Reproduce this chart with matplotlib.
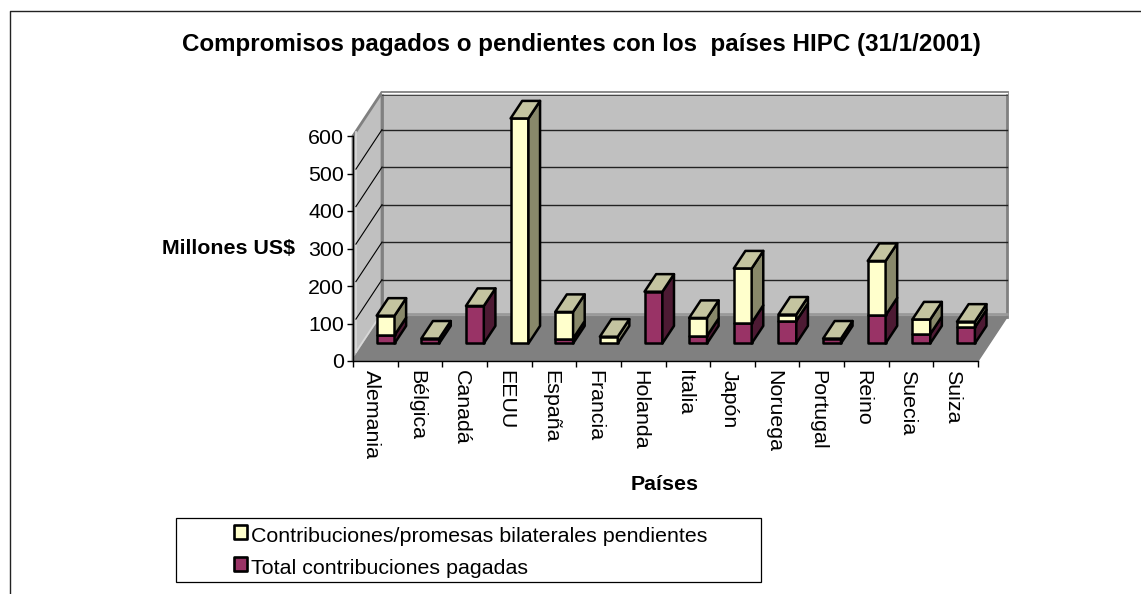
import matplotlib
matplotlib.use("Agg")
import matplotlib.pyplot as plt
from matplotlib.patches import Polygon, Rectangle
from matplotlib.transforms import ScaledTranslation

plt.rcParams['font.family'] = ['Liberation Sans', 'DejaVu Sans']

paises = ["Alemania", "Bélgica", "Canadá", "EEUU", "España", "Francia", "Holanda",
          "Italia", "Japón", "Noruega", "Portugal", "Reino", "Suecia", "Suiza"]
pagadas = [22, 13, 100, 0, 13, 0, 138, 20, 55, 60, 13, 75, 25, 43]
pendientes = [52, 0, 0, 600, 71, 18, 0, 48, 145, 17, 0, 145, 39, 15]
y_ticks = [0, 100, 200, 300, 400, 500, 600]

W, H = 1141, 594

YELLOW = ("#FFFFCC", "#C4C4A0", "#88886A")
MAGENTA = ("#993366", "#C4C4A0", "#4D1A33")

# depth of the fake 3d box, in data units
DX = 0.65
DY = 117.0


def project(x, v, d):
    # d goes 0 (front of floor) to 1 (back wall)
    return (x + DX * d, v + DY * d)


def draw_box(ax, x0, x1, v0, v1, colors, top=True):
    d0, d1 = 0.4, 0.8
    front, top_col, side = colors
    lw = 1.8
    pts = [project(x0, v0, d0), project(x1, v0, d0), project(x1, v1, d0), project(x0, v1, d0)]
    ax.add_patch(Polygon(pts, fc=front, ec="black", lw=lw, clip_on=False, zorder=5, joinstyle="round"))
    pts = [project(x1, v0, d0), project(x1, v0, d1), project(x1, v1, d1), project(x1, v1, d0)]
    ax.add_patch(Polygon(pts, fc=side, ec="black", lw=lw, clip_on=False, zorder=5, joinstyle="round"))
    if top:
        pts = [project(x0, v1, d0), project(x1, v1, d0), project(x1, v1, d1), project(x0, v1, d1)]
        ax.add_patch(Polygon(pts, fc=top_col, ec="black", lw=lw, clip_on=False, zorder=5, joinstyle="round"))


def wall_line(ax, p, q, **kw):
    ax.plot([p[0], q[0]], [p[1], q[1]], clip_on=False, zorder=3, **kw)


fig = plt.figure(figsize=(W / 100, H / 100), dpi=100, facecolor="white")

# outer chart border, only top and left are inside the picture
fig.add_artist(plt.Line2D([9.5 / W, 9.5 / W, 1], [0, 1 - 11 / H, 1 - 11 / H], transform=fig.transFigure,
                          color="#222222", lw=1.0))

ax = fig.add_axes([353 / W, 1 - 361 / H, (978 - 353) / W, (361 - 136) / H])
ax.set_xlim(0, len(paises))
ax.set_ylim(0, 600)
ax.patch.set_visible(False)
for s in ["top", "right"]:
    ax.spines[s].set_visible(False)
for s in ["left", "bottom"]:
    ax.spines[s].set_linewidth(1.0)
    ax.spines[s].set_zorder(6)

n = len(paises)
top_v = y_ticks[-1]

# walls and floor
ax.add_patch(Polygon([project(0, 0, 0), project(0, 0, 1), project(0, top_v, 1), project(0, top_v, 0)],
                     fc="#C0C0C0", ec="#808080", lw=2, clip_on=False, zorder=1))
ax.add_patch(Polygon([project(0, 0, 1), project(n, 0, 1), project(n, top_v, 1), project(0, top_v, 1)],
                     fc="#C0C0C0", ec="#808080", lw=2, clip_on=False, zorder=1))
ax.add_patch(Polygon([project(0, 0, 0), project(n, 0, 0), project(n, 0, 1), project(0, 0, 1)],
                     fc="#808080", ec="#808080", lw=1, clip_on=False, zorder=2))

# lighter strip on the side wall, darker band where back wall meets floor
wall_line(ax, project(0, 12, 0.1), project(0, 12, 1), color="#D8D8D8", lw=1.2)
wall_line(ax, project(0, 12, 0.1), project(0, top_v, 0.1), color="#D8D8D8", lw=1.2)
wall_line(ax, project(0, 8, 1), project(n, 8, 1), color="#999999", lw=2)

# gridlines along both walls
for v in y_ticks[1:-1]:
    wall_line(ax, project(0, v, 0.1), project(0, v, 1), color="black", lw=0.8)
    wall_line(ax, project(0, v, 1), project(n, v, 1), color="#222222", lw=1.0)

# thin white and dark line just under the top edge of the back wall
wall_line(ax, project(0, top_v - 3.5, 1), project(n, top_v - 3.5, 1), color="white", lw=0.9)
wall_line(ax, project(0, top_v - 7, 1), project(n, top_v - 7, 1), color="#444444", lw=0.7)

# bars
bar_w = 0.4
for i in range(n):
    x0 = i + 0.5 - bar_w / 2 - 0.03
    x1 = x0 + bar_w
    has_yellow = pendientes[i] > 0
    if pagadas[i] > 0:
        draw_box(ax, x0, x1, 0, pagadas[i], MAGENTA, top=not has_yellow)
    if has_yellow:
        draw_box(ax, x0, x1, pagadas[i], pagadas[i] + pendientes[i], YELLOW)

ax.set_yticks(y_ticks)
ax.set_yticklabels([str(v) for v in y_ticks], fontsize=15.4)
ax.set_xticks(range(n + 1))
ax.set_xticks([i + 0.5 for i in range(n)], minor=True)
ax.set_xticklabels([""] * (n + 1))
ax.set_xticklabels(paises, minor=True, rotation=-90, fontsize=15.4, ha="center", va="top")
ax.tick_params(axis="x", which="major", length=4, width=1.0, direction="out")
ax.tick_params(axis="x", which="minor", length=0, pad=6.5)
ax.tick_params(axis="y", length=4, width=1.0, direction="out", pad=2.5)

# reference labels sit a few pixels left of the category centre
shift = ScaledTranslation(-3.5 / 100, 0, fig.dpi_scale_trans)
for lab in ax.get_xticklabels(minor=True):
    lab.set_transform(lab.get_transform() + shift)

fig.text(581 / W, 1 - 45 / H, "Compromisos pagados o pendientes con los  países HIPC (31/1/2001)",
         ha="center", va="center", fontsize=17.4, fontweight="bold")
fig.text(228 / W, 1 - 249 / H, "Millones US$", ha="center", va="center", fontsize=15.4, fontweight="bold")
fig.text(665 / W, 1 - 485 / H, "Países", ha="center", va="center", fontsize=15.4, fontweight="bold")

# legend
fig.add_artist(Rectangle((176 / W, 1 - 582 / H), (761 - 176) / W, (582 - 518) / H,
                         transform=fig.transFigure, fc="white", ec="black", lw=0.9))
legend_rows = [("Contribuciones/promesas bilaterales pendientes", YELLOW[0], 531.5),
               ("Total contribuciones pagadas", MAGENTA[0], 564)]
for label, col, y in legend_rows:
    fig.add_artist(Rectangle((233.5 / W, 1 - (y + 7) / H), 13 / W, 14 / H, transform=fig.transFigure,
                             fc=col, ec="black", lw=1.9, joinstyle="round"))
    fig.text(251 / W, 1 - (y + 5) / H, label, ha="left", va="center", fontsize=15.4)

fig.savefig("out.png", dpi=100)
